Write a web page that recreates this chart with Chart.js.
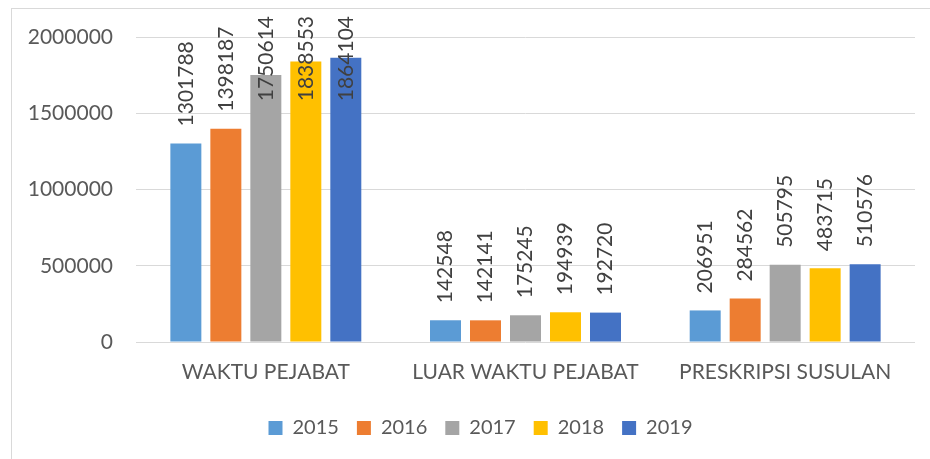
<!DOCTYPE html>
<html>
<head>
<meta charset="utf-8">
<script src="https://cdn.jsdelivr.net/npm/chart.js@4/dist/chart.umd.min.js"></script>
<style>
  html, body { margin: 0; padding: 0; background: #fff; overflow: hidden; }
  #frame {
    position: absolute; left: 11px; top: 8px;
    width: 940px; height: 470px;
    border: 1px solid #d9d9d9; border-right: none; border-bottom: none;
  }
  #chart { position: absolute; left: 0; top: 0; }
</style>
</head>
<body>
<div id="frame"></div>
<canvas id="chart" width="930" height="459"></canvas>
<script>
// Patient visits by session, 2015 - 2019
const categories = ['WAKTU PEJABAT', 'LUAR WAKTU PEJABAT', 'PRESKRIPSI SUSULAN'];
const years = ['2015', '2016', '2017', '2018', '2019'];
const visits2015 = [1301788, 142548, 206951];
const visits2016 = [1398187, 142141, 284562];
const visits2017 = [1750614, 175245, 505795];
const visits2018 = [1838553, 194939, 483715];
const visits2019 = [1864104, 192720, 510576];
const yMax = 2000000;
const yStep = 500000;

const seriesValues = [visits2015, visits2016, visits2017, visits2018, visits2019];
const seriesColors = ['#5B9BD5', '#ED7D31', '#A5A5A5', '#FFC000', '#4472C4'];

const fontFamily = 'Lato, "Open Sans", sans-serif';

// Vertical value labels above each bar, kept inside the top of the canvas
const barValueLabels = {
    id: 'barValueLabels',
    afterDatasetsDraw(chart) {
        const ctx = chart.ctx;
        ctx.save();
        ctx.font = '21px ' + fontFamily;
        ctx.fillStyle = '#404040';
        ctx.textAlign = 'left';
        ctx.textBaseline = 'middle';
        chart.data.datasets.forEach((ds, i) => {
            const meta = chart.getDatasetMeta(i);
            meta.data.forEach((bar, j) => {
                const text = String(ds.data[j]);
                const w = ctx.measureText(text).width;
                let start = bar.y - 17;
                if (start - w < 16) start = 16 + w;
                ctx.save();
                ctx.translate(bar.x, start);
                ctx.rotate(-Math.PI / 2);
                ctx.fillText(text, 0, 0);
                ctx.restore();
            });
        });
        ctx.restore();
    }
};

// Nudge the legend a little to the right of the canvas centre
const legendShift = {
    id: 'legendShift',
    afterLayout(chart) {
        if (chart.legend) {
            chart.legend.left += 23;
            chart.legend.right += 23;
        }
    }
};

const ctx = document.getElementById('chart').getContext('2d');
const myChart = new Chart(ctx, {
    type: 'bar',
    data: {
        labels: categories,
        datasets: years.map((y, i) => ({
            label: y,
            data: seriesValues[i],
            backgroundColor: seriesColors[i],
            categoryPercentage: 0.77,
            barPercentage: 0.775
        }))
    },
    options: {
        responsive: false,
        animation: false,
        layout: { padding: { top: 37, right: 15, left: 0, bottom: 11 } },
        plugins: {
            tooltip: { enabled: false },
            legend: {
                position: 'bottom',
                labels: {
                    boxWidth: 14,
                    boxHeight: 14,
                    padding: 18,
                    color: '#595959',
                    font: { family: fontFamily, size: 20 }
                }
            }
        },
        scales: {
            x: {
                grid: { display: false },
                border: { display: false },
                ticks: {
                    color: '#595959',
                    padding: 10,
                    font: { family: fontFamily, size: 21 }
                },
                afterFit(scale) { scale.height = 58; }
            },
            y: {
                min: 0,
                max: yMax,
                grid: { color: '#d9d9d9', drawTicks: false },
                border: { display: false },
                ticks: {
                    stepSize: yStep,
                    color: '#595959',
                    padding: 23,
                    font: { family: fontFamily, size: 21 },
                    callback: (v) => String(v)
                },
                afterFit(scale) { scale.width = 136; }
            }
        }
    },
    plugins: [barValueLabels, legendShift]
});
</script>
</body>
</html>
